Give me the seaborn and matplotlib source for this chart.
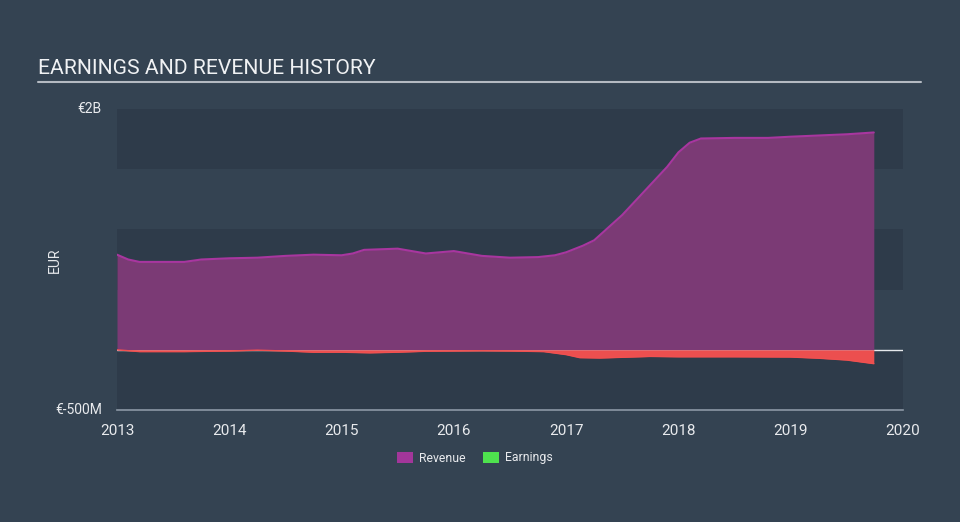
import matplotlib
matplotlib.use("Agg")
import matplotlib.pyplot as plt
import seaborn as sns
import pandas as pd
import numpy as np

# Data (EUR billions)
rev_years = [2013.0, 2013.1, 2013.2, 2013.4, 2013.6, 2013.75, 2014.0, 2014.25, 2014.5, 2014.75, 2015.0,
             2015.1, 2015.2, 2015.5, 2015.75, 2016.0, 2016.25, 2016.5, 2016.75, 2016.9, 2017.0, 2017.15,
             2017.25, 2017.5, 2017.75, 2017.9, 2018.0, 2018.1, 2018.2, 2018.5, 2018.8, 2019.0, 2019.5,
             2019.74]
revenue = [0.79, 0.75, 0.73, 0.73, 0.73, 0.75, 0.76, 0.765, 0.78, 0.79, 0.785,
           0.80, 0.83, 0.84, 0.80, 0.82, 0.78, 0.765, 0.77, 0.785, 0.81, 0.865,
           0.91, 1.12, 1.37, 1.52, 1.64, 1.72, 1.755, 1.76, 1.76, 1.77, 1.79,
           1.805]
earn_years = [2013.0, 2013.2, 2013.6, 2014.0, 2014.25, 2014.5, 2014.75, 2015.0, 2015.25, 2015.5,
              2015.75, 2016.0, 2016.25, 2016.5, 2016.8, 2017.0, 2017.12, 2017.3, 2017.75, 2018.0,
              2018.5, 2019.0, 2019.25, 2019.5, 2019.74]
earnings = [0.0, -0.015, -0.015, -0.01, -0.003, -0.01, -0.02, -0.02, -0.025, -0.02,
            -0.012, -0.01, -0.008, -0.01, -0.015, -0.04, -0.065, -0.068, -0.055, -0.058,
            -0.058, -0.06, -0.07, -0.085, -0.115]
y_ticks = [-0.5, 2.0]
y_ticklabels = ["€-500M", "€2B"]
x_ticks = [2013, 2014, 2015, 2016, 2017, 2018, 2019, 2020]

rev_df = pd.DataFrame({"year": rev_years, "value": revenue})
earn_df = pd.DataFrame({"year": earn_years, "value": earnings})

sns.set_style("dark")
plt.rcParams["font.family"] = ["Roboto", "DejaVu Sans"]

BG = "#344352"
DARK = "#2e3b4a"
fig = plt.figure(figsize=(9.6, 5.22), dpi=100, facecolor=BG)
ax = fig.add_axes([117/960, 1-410/522, (903-117)/960, (410-109)/522])
ax.set_facecolor(BG)

for lo, hi in [(1.5, 2.0), (0.5, 1.0), (-0.5, 0.0)]:
    ax.axhspan(lo, hi, color=DARK, lw=0, zorder=0)

ax.axhline(0, color="#e6e9ec", lw=1, zorder=1)

# Revenue
ax.fill_between(rev_df["year"], 0, rev_df["value"], color="#7b3a75", lw=0, zorder=2)
sns.lineplot(data=rev_df, x="year", y="value", ax=ax, color="#a8369f", lw=1.5, zorder=3)

# Earnings
ev = np.array(earnings)
ax.fill_between(earn_df["year"], 0, ev, where=ev <= 0, color="#ec4f4f", lw=0, zorder=4, interpolate=True)
ax.fill_between(earn_df["year"], 0, ev, where=ev > 0, color="#4cd94c", lw=0, zorder=4, interpolate=True)
sns.lineplot(data=earn_df, x="year", y="value", ax=ax, color="#f05050", lw=1, zorder=5)

ax.set_xlim(2013, 2020)
ax.set_ylim(-0.5, 2.0)
ax.set_xticks(x_ticks)
ax.set_xticklabels([str(t) for t in x_ticks], color="#e8eaed", fontsize=11)
ax.set_yticks(y_ticks)
ax.set_yticklabels(y_ticklabels, color="#e8eaed", fontsize=10)
ax.tick_params(axis="x", length=8, width=1, color="#8c98a6", pad=2, direction="out")
ax.tick_params(axis="y", length=0, pad=11)
for lab in ax.get_yticklabels():
    lab.set_verticalalignment("center")
for s in ["top", "right", "left"]:
    ax.spines[s].set_visible(False)
ax.spines["bottom"].set_color("#8c98a6")
ax.spines["bottom"].set_linewidth(1.2)
ax.set_xlabel("")
ax.set_ylabel("EUR", color="#e8eaed", fontsize=10)
ax.yaxis.set_label_coords((62 - 117) / 786, (410 - 260) / 301)
ax.grid(False)

# Title and underline
fig.text(38/960, 1-69/522, "EARNINGS AND REVENUE HISTORY", color="#f0f2f4", fontsize=15.2,
         va="center", ha="left")
fig.add_artist(plt.Line2D([38/960, 921/960], [1-82/522, 1-82/522], color="#b4bac2", lw=1.5))

# Legend
from matplotlib.patches import Patch
handles = [Patch(facecolor="#a2369a", edgecolor="none", label="Revenue"),
           Patch(facecolor="#4ee24e", edgecolor="none", label="Earnings")]
leg = fig.legend(handles=handles, loc="center", bbox_to_anchor=(475/960, 1-458/522), ncol=2,
                 frameon=False, fontsize=8.8, handlelength=1.3, handleheight=1.0,
                 columnspacing=1.4, handletextpad=0.5)
for t in leg.get_texts():
    t.set_color("#e8eaed")

fig.savefig("out.png", dpi=100, facecolor=BG)
